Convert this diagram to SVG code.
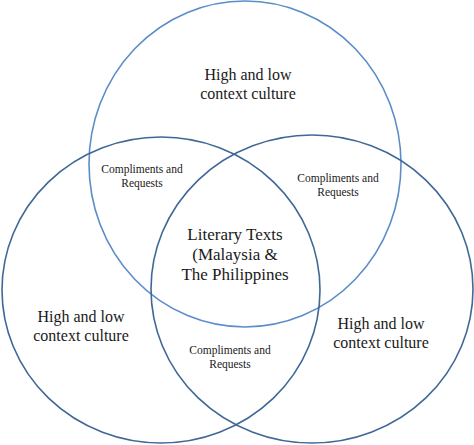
<svg xmlns="http://www.w3.org/2000/svg" width="474" height="445" viewBox="0 0 474 445">
<style>
.c{fill:none;stroke-width:1.6}
.top{stroke:#5b8dc8}
.low{stroke:#3f6896}
text{font-family:'Liberation Serif','DejaVu Serif',serif;fill:#1a1a1a;text-anchor:middle}
.b{font-size:16px}
.s{font-size:11.5px}
.m{font-size:17px}
</style>
<rect width="474" height="445" fill="#fff"/>
<g id="circles">
<ellipse id="circle-top" class="c top" cx="245" cy="164" rx="156" ry="163"/>
<ellipse id="circle-left" class="c low" cx="161" cy="290" rx="159" ry="153"/>
<ellipse id="circle-right" class="c low" cx="312" cy="289" rx="161" ry="154"/>
</g>
<g id="label-top"><text class="b" x="248" y="80">High and low</text><text class="b" x="248" y="99">context culture</text></g>
<g id="label-left"><text class="b" x="81" y="322">High and low</text><text class="b" x="81" y="341">context culture</text></g>
<g id="label-right"><text class="b" x="381" y="329">High and low</text><text class="b" x="381" y="348">context culture</text></g>
<g id="label-tl"><text class="s" x="142" y="173">Compliments and</text><text class="s" x="142" y="187">Requests</text></g>
<g id="label-tr"><text class="s" x="338" y="182">Compliments and</text><text class="s" x="338" y="196">Requests</text></g>
<g id="label-bottom"><text class="s" x="230" y="354">Compliments and</text><text class="s" x="230" y="368">Requests</text></g>
<g id="label-center"><text class="m" x="235" y="240">Literary Texts</text><text class="m" x="235" y="260">(Malaysia &amp;</text><text class="m" x="235" y="280">The Philippines</text></g>
</svg>
